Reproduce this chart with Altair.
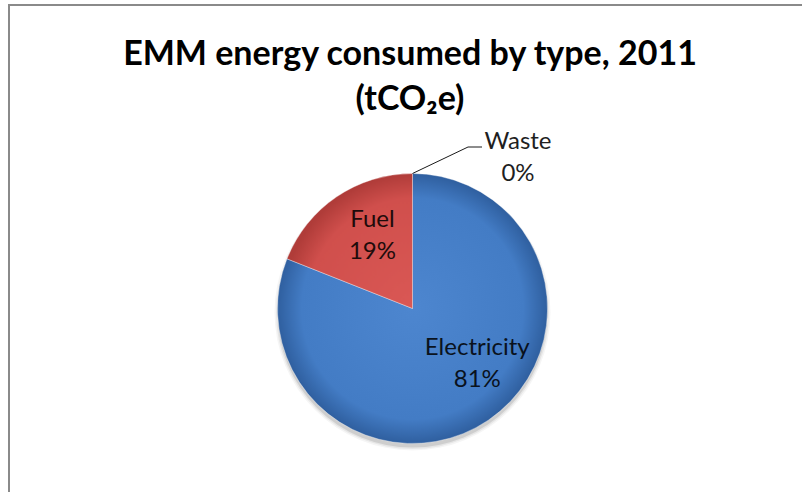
import math

import altair as alt
import pandas as pd

# --- chart data -------------------------------------------------------------
categories = ["Electricity", "Fuel", "Waste"]
shares = [81, 19, 0]  # share of total tCO2e, percent
title_lines = ["EMM energy consumed by type, 2011", "(tCO\u2082e)"]

# --- layout -----------------------------------------------------------------
W, H = 802, 492
CX, CY, R = 412.5, 308.5, 135
FONT = "Lato"
LINE_H = 32  # line height of the two-line slice labels

df = pd.DataFrame({"type": categories, "share": shares})
total = float(df["share"].sum())
df["t1"] = df["share"].cumsum()
df["t0"] = df["t1"] - df["share"]
df["mid"] = (df["t0"] + df["t1"]) / 2
df["label"] = df["type"] + "\n" + df["share"].round().astype(int).astype(str) + "%"

theta_scale = alt.Scale(domain=[0, total], range=[0, 2 * math.pi])
center = dict(x=alt.value(CX), y=alt.value(CY))

base = alt.Chart(df)


def radial(inner, mid, edge, cx, cy, r):
    return alt.Gradient(
        gradient="radial",
        x1=cx, y1=cy, r1=0,
        x2=cx, y2=cy, r2=r,
        stops=[
            alt.GradientStop(offset=0, color=inner),
            alt.GradientStop(offset=0.82, color=mid),
            alt.GradientStop(offset=1, color=edge),
        ],
    )


# soft drop shadow under the pie
shadow = [
    base.transform_aggregate(total="sum(share)")
    .mark_arc(radius=R + grow, fill="#000000", opacity=op)
    .encode(theta=alt.Theta("total:Q", scale=theta_scale),
            x=alt.value(CX), y=alt.value(CY + 4))
    for grow, op in [(3, 0.04), (1.5, 0.06), (0, 0.10)]
]

# slices: t0/t1 are cumulative shares so each slice keeps its place in the pie
electricity = (
    base.transform_filter(alt.datum.type == "Electricity")
    .mark_arc(radius=R, fill=radial("#4d86cf", "#437cc5", "#2f5f9f", 0.5, 0.5, 0.5),
              stroke="#ffffff", strokeOpacity=0.35, strokeWidth=1)
    .encode(theta=alt.Theta("t0:Q", scale=theta_scale), theta2="t1:Q", **center)
)
fuel = (
    base.transform_filter(alt.datum.type == "Fuel")
    .mark_arc(radius=R, fill=radial("#da5855", "#d04f4c", "#b03c39", 1, 1, 1),
              stroke="#ffffff", strokeOpacity=0.35, strokeWidth=1)
    .encode(theta=alt.Theta("t0:Q", scale=theta_scale), theta2="t1:Q", **center)
)

# in-slice labels (name + percent); dy lifts the two-line block onto its centre
label_style = dict(font=FONT, fontSize=24, lineBreak="\n", lineHeight=LINE_H,
                   align="center", baseline="middle", color="#000000", opacity=0.85)
elec_label = (
    base.transform_filter(alt.datum.type == "Electricity")
    .mark_text(radius=85, dx=17, dy=-15 - LINE_H / 2, **label_style)
    .encode(theta=alt.Theta("mid:Q", scale=theta_scale), text="label:N", **center)
)
fuel_label = (
    base.transform_filter(alt.datum.type == "Fuel")
    .mark_text(radius=82, dx=6, dy=-5 - LINE_H / 2, **label_style)
    .encode(theta=alt.Theta("mid:Q", scale=theta_scale), text="label:N", **center)
)

# outside label for the near-zero slice, with a leader line from its rim point
waste = df[df["type"] == "Waste"].iloc[0]
ang = waste["mid"] / total * 2 * math.pi
ax, ay = CX + R * math.sin(ang), CY - R * math.cos(ang)
leader_df = pd.DataFrame({
    "i": [0, 1, 2],
    "lx": [ax, ax + 55.5, ax + 69.5],
    "ly": [ay, ay - 26.5, ay - 26.5],
})
leader = (
    alt.Chart(leader_df)
    .mark_line(color="#1a1a1a", strokeWidth=1)
    .encode(x=alt.X("lx:Q", scale=None), y=alt.Y("ly:Q", scale=None), order="i:Q")
)
waste_label = (
    alt.Chart(pd.DataFrame({"label": [waste["label"]], "lx": [ax + 105.5], "ly": [ay - 32]}))
    .mark_text(font=FONT, fontSize=24, lineBreak="\n", lineHeight=LINE_H,
               align="center", baseline="middle", color="#1f1f1f")
    .encode(x=alt.X("lx:Q", scale=None), y=alt.Y("ly:Q", scale=None), text="label:N")
)

# title, two centred lines
title = [
    alt.Chart(pd.DataFrame({"t": [line]}))
    .mark_text(font=FONT, fontSize=34, fontWeight="bold", align="center",
               baseline="middle", color="#000000")
    .encode(x=alt.value(410), y=alt.value(yy), text="t:N")
    for line, yy in zip(title_lines, [55, 100])
]

# chart frame (left and top edges)
frame = [
    alt.Chart(pd.DataFrame({"k": [0]})).mark_rule(color="#8a8a8a", strokeWidth=2)
    .encode(x=alt.value(9), y=alt.value(5), y2=alt.value(H)),
    alt.Chart(pd.DataFrame({"k": [0]})).mark_rule(color="#8a8a8a", strokeWidth=2)
    .encode(x=alt.value(8), x2=alt.value(W), y=alt.value(5)),
]

chart = (
    alt.layer(*frame, *shadow, electricity, fuel, elec_label, fuel_label,
              leader, waste_label, *title)
    .properties(width=W, height=H, padding=0, background="#ffffff",
                autosize=alt.AutoSizeParams(type="none"))
    .configure_view(stroke=None)
)

chart.save("out.html", embed_options={"renderer": "svg", "actions": False})
